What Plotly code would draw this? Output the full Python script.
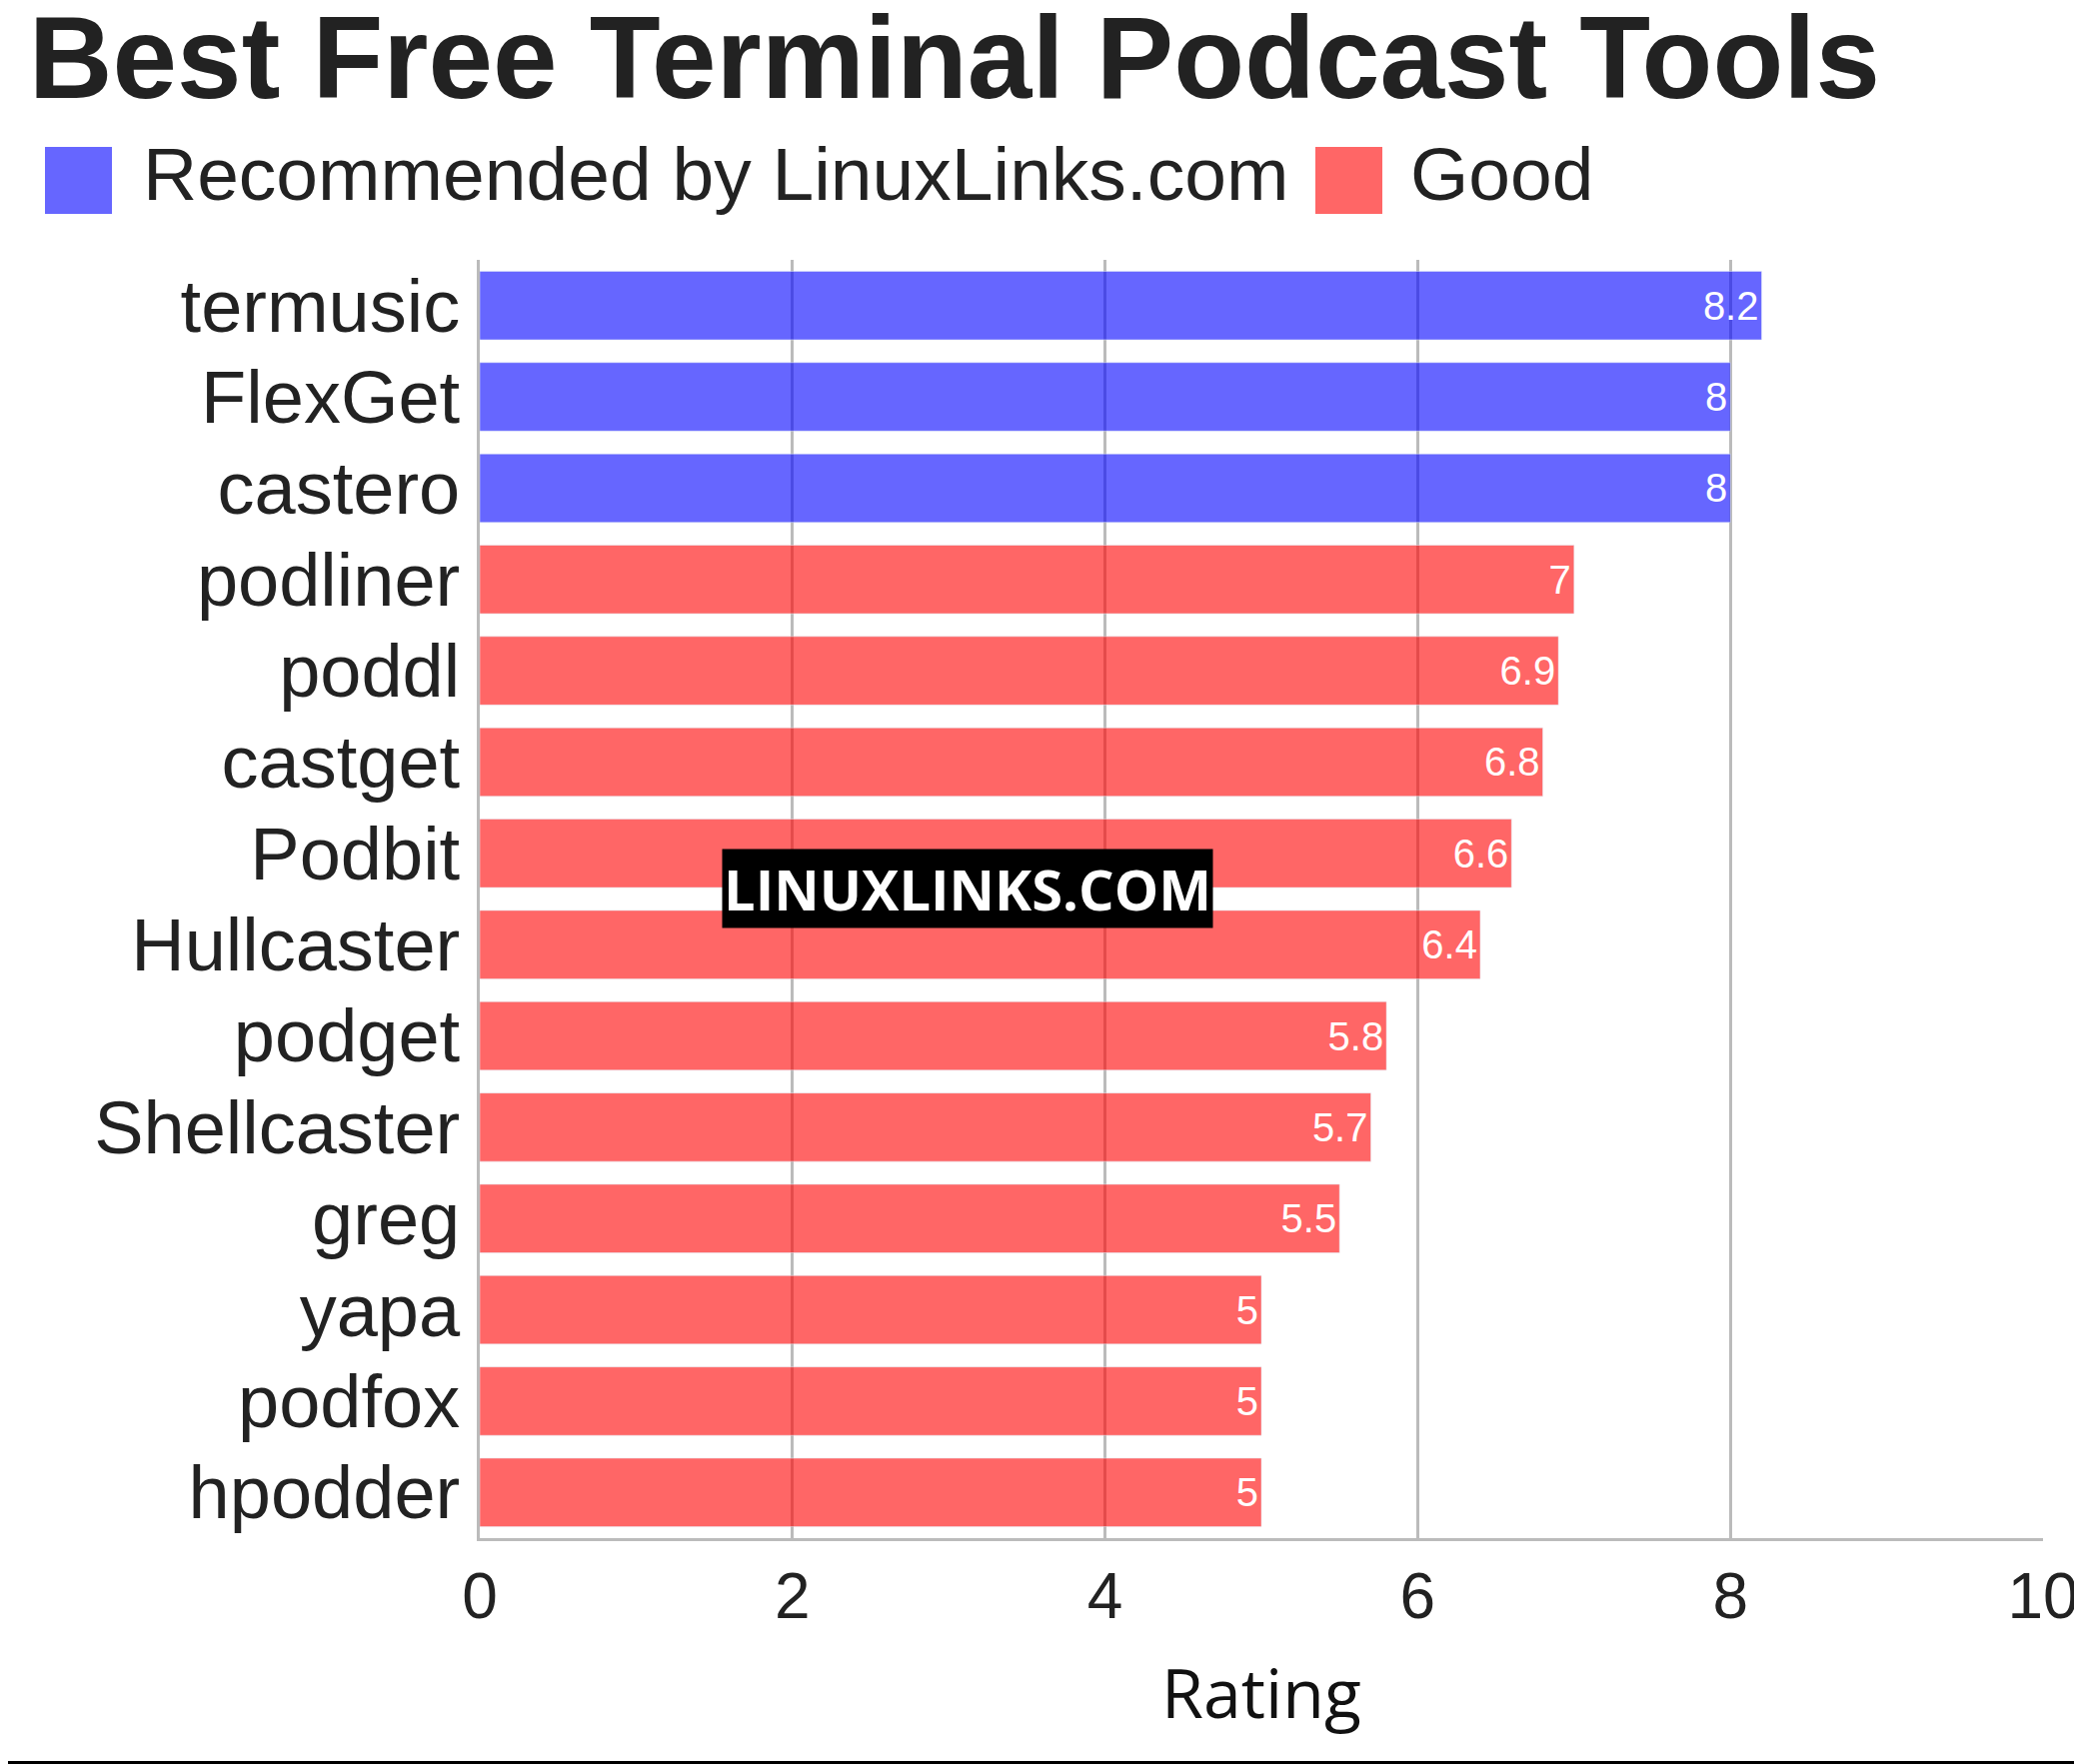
import plotly.graph_objects as go

rec_names = ["termusic", "FlexGet", "castero"]
rec_vals = [8.2, 8, 8]
good_names = ["podliner", "poddl", "castget", "Podbit", "Hullcaster", "podget",
              "Shellcaster", "greg", "yapa", "podfox", "hpodder"]
good_vals = [7, 6.9, 6.8, 6.6, 6.4, 5.8, 5.7, 5.5, 5, 5, 5]
legend_labels = ["Recommended by LinuxLinks.com", "Good"]
order = (rec_names + good_names)[::-1]
BLUE = "rgba(0,0,255,0.6)"
RED = "rgba(255,0,0,0.6)"

W, H = 2083, 1765
L, R, T, B = 472, 47, 252, 234
PW, PH = W - L - R, H - T - B
px = lambda v: (v - L) / PW
py = lambda v: (H - B - v) / PH

fig = go.Figure()
fig.add_bar(y=rec_names, x=rec_vals, orientation="h", showlegend=False,
            marker_color=BLUE, text=rec_vals, textposition="inside",
            insidetextanchor="end", textfont=dict(color="white", size=40, family="Liberation Sans"))
fig.add_bar(y=good_names, x=good_vals, orientation="h", showlegend=False,
            marker_color=RED, text=good_vals, textposition="inside",
            insidetextanchor="end", textfont=dict(color="white", size=40, family="Liberation Sans"))

# manual legend
for (x0, tx, col, lab) in [(37, 133, BLUE, legend_labels[0]), (1308, 1401, RED, legend_labels[1])]:
    fig.add_shape(type="rect", xref="paper", yref="paper", x0=px(x0), x1=px(x0 + 67),
                  y0=py(206), y1=py(139), fillcolor=col, line_width=0)
    fig.add_annotation(text=lab, xref="paper", yref="paper", x=px(tx), y=py(166),
                       xanchor="left", yanchor="middle", showarrow=False,
                       font=dict(size=75, family="Liberation Sans", color="#222"))

fig.update_layout(
    width=W, height=H, plot_bgcolor="white", paper_bgcolor="white",
    margin=dict(l=L, r=R, t=T, b=B), showlegend=False,
    bargap=0.25, barmode="overlay",
    title=dict(text="<b>Best Free Terminal Podcast Tools</b>", x=0.01, xanchor="left",
               y=0.972, yanchor="middle", font=dict(size=116, family="Liberation Sans", color="#222")),
    font=dict(family="Liberation Sans", color="#222"),
)
fig.update_xaxes(range=[0, 10], dtick=2, showgrid=True, gridcolor="rgba(120,120,120,0.5)", gridwidth=3,
                 layer="above traces", zeroline=False, showline=True, linecolor="#bbb", linewidth=3,
                 tickfont=dict(size=64), ticks="",
                 title=dict(text="Rating", font=dict(size=68, family="Open Sans", color="#111"), standoff=40))
fig.update_yaxes(categoryorder="array", categoryarray=order, tickfont=dict(size=74),
                 showline=True, linecolor="#bbb", linewidth=3, ticks="outside", ticklen=2, tickcolor="white")
fig.add_annotation(text="<b>LINUXLINKS.COM</b>", xref="paper", yref="paper", x=0.312, y=0.508,
                   xanchor="center", yanchor="middle",
                   showarrow=False, bgcolor="black", font=dict(color="white", size=56, family="Open Sans"),
                   borderpad=1)
fig.add_shape(type="line", xref="paper", yref="paper", x0=px(0), x1=px(W), y0=py(1756), y1=py(1756),
              line=dict(color="black", width=4))
fig.write_html("out.html")
